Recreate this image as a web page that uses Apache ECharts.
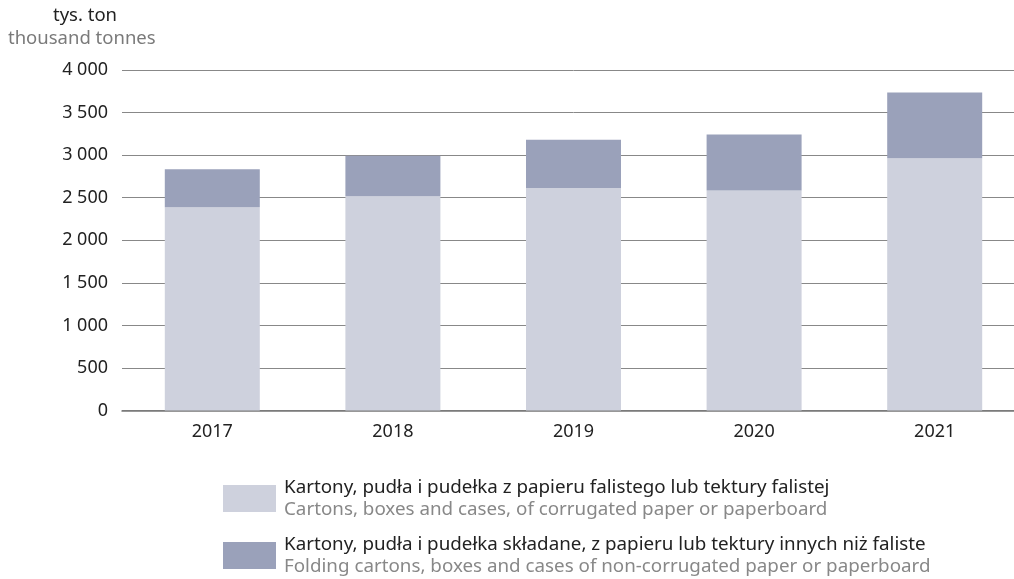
<!DOCTYPE html>
<html>
<head>
<meta charset="utf-8">
<script src="https://cdn.jsdelivr.net/npm/echarts@6/dist/echarts.min.js"></script>
<style>
  html, body { margin: 0; padding: 0; background: #fff; overflow: hidden; }
  #chart { width: 1030px; height: 579px; }
</style>
</head>
<body>
<div id="chart"></div>
<script>
const years = ["2017", "2018", "2019", "2020", "2021"];
const corrugated = [2387, 2516, 2614, 2583, 2962];
const folding = [446, 478, 567, 660, 774];
const seriesNamesPl = [
  "Kartony, pudła i pudełka z papieru falistego lub tektury falistej",
  "Kartony, pudła i pudełka składane, z papieru lub tektury innych niż faliste"
];
const seriesNamesEn = [
  "Cartons, boxes and cases, of corrugated paper or paperboard",
  "Folding cartons, boxes and cases of non-corrugated paper or paperboard"
];
const yTicks = [0, 4000, 500];

const font = "'Noto Sans', sans-serif";
const chart = echarts.init(document.getElementById("chart"));

const fmtThousands = (v) => String(v).replace(/\B(?=(\d{3})+(?!\d))/g, " ");

chart.setOption({
  animation: false,
  textStyle: { fontFamily: font },
  grid: { left: 122, top: 70, width: 903, height: 340.5, containLabel: false },
  graphic: [
    { type: "text", left: 53, top: 6, style: { text: "tys. ton", fontSize: 18.5, fill: "#222", fontFamily: font } },
    { type: "text", left: 8, top: 29, style: { text: "thousand tonnes", fontSize: 18.5, fill: "#7a7a7a", fontFamily: font } }
  ],
  legend: {
    orient: "vertical",
    left: 218,
    top: 473,
    height: 300,
    itemWidth: 53,
    itemHeight: 27,
    itemGap: 16,
    icon: "rect",
    data: seriesNamesPl,
    formatter: (name) => {
      const i = seriesNamesPl.indexOf(name);
      return "{a|" + name + "}\n{b|" + seriesNamesEn[i] + "}";
    },
    textStyle: {
      rich: {
        a: { fontSize: 18.8, color: "#222", lineHeight: 22, fontFamily: font, padding: [0, 0, 0, 3] },
        b: { fontSize: 18.8, color: "#888", lineHeight: 22, fontFamily: font, padding: [0, 0, 0, 3] }
      }
    }
  },
  xAxis: {
    type: "category",
    data: years,
    axisLine: { lineStyle: { color: "#777", width: 1.5 } },
    axisTick: { show: false },
    axisLabel: { fontSize: 18, color: "#222", margin: 12 }
  },
  yAxis: {
    type: "value",
    min: yTicks[0],
    max: yTicks[1],
    interval: yTicks[2],
    axisLine: { show: false },
    axisTick: { show: false },
    splitLine: { lineStyle: { color: "#888", width: 1 } },
    axisLabel: { fontSize: 18, color: "#222", margin: 14, formatter: fmtThousands }
  },
  series: [
    {
      name: seriesNamesPl[0],
      type: "bar",
      stack: "total",
      barWidth: 95,
      data: corrugated,
      itemStyle: { color: "#CED1DD" }
    },
    {
      name: seriesNamesPl[1],
      type: "bar",
      stack: "total",
      barWidth: 95,
      data: folding,
      itemStyle: { color: "#9AA1BA" }
    }
  ]
});
</script>
</body>
</html>
